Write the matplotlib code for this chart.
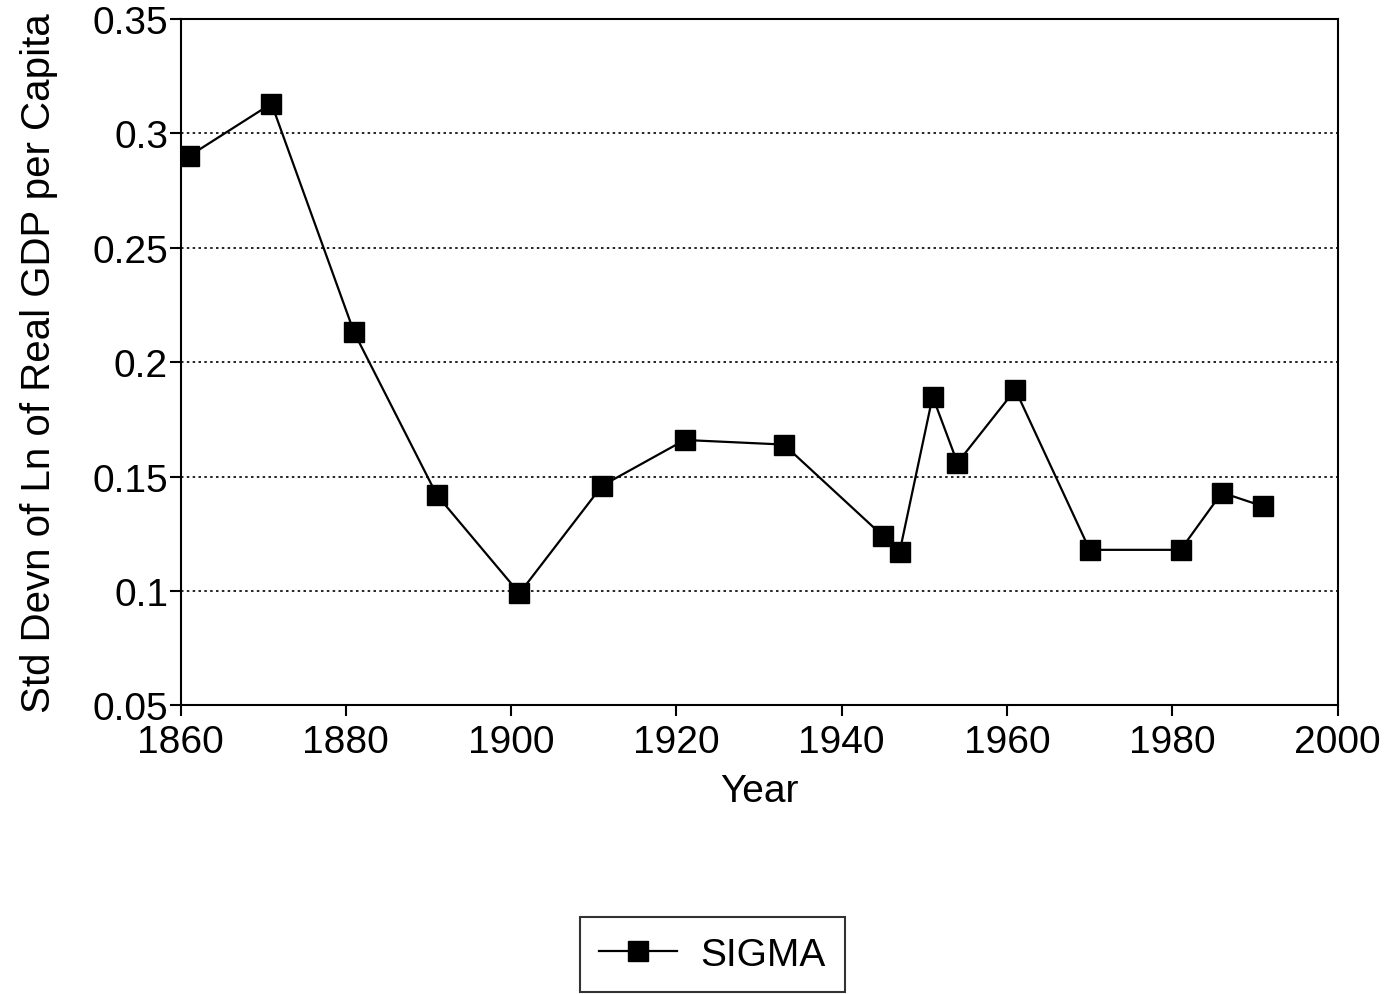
import numpy as np
import matplotlib
matplotlib.use("Agg")
import matplotlib.pyplot as plt
from matplotlib.lines import Line2D

plt.rcParams['font.family'] = ['Liberation Sans', 'DejaVu Sans']

# data
years = [1861, 1871, 1881, 1891, 1901, 1911, 1921, 1933, 1945, 1947,
         1951, 1954, 1961, 1970, 1981, 1986, 1991]
sigma = [0.290, 0.313, 0.213, 0.142, 0.099, 0.146, 0.166, 0.164, 0.124, 0.117,
         0.185, 0.156, 0.188, 0.118, 0.118, 0.143, 0.137]
xticks = [1860, 1880, 1900, 1920, 1940, 1960, 1980, 2000]
yticks = [0.05, 0.1, 0.15, 0.2, 0.25, 0.3, 0.35]
ytick_labels = ['0.05', '0.1', '0.15', '0.2', '0.25', '0.3', '0.35']

fig = plt.figure(figsize=(13.89, 9.95), dpi=100)
ax = fig.add_axes([0.130, 0.290, 0.833, 0.690])

ax.plot(years, sigma, color='black', lw=1.6, marker='s', ms=15,
        markerfacecolor='black', markeredgecolor='black')

ax.set_xlim(1860, 2000)
ax.set_ylim(0.05, 0.35)
ax.set_xticks(xticks)
ax.set_yticks(yticks)
ax.set_yticklabels(ytick_labels)
ax.tick_params(axis='both', labelsize=28, direction='out', length=8, width=1.5)
ax.tick_params(axis='y', pad=1)
ax.tick_params(axis='x', pad=5)
for s in ax.spines.values():
    s.set_linewidth(1.5)

# dotted horizontal grid
for yv in yticks[1:-1]:
    ax.axhline(yv, color='black', lw=1.2, ls=(0, (1.5, 2)), zorder=0)

ax.set_xlabel('Year', fontsize=28, labelpad=10)
ax.set_ylabel('Std Devn of Ln of Real GDP per Capita', fontsize=29)
ax.yaxis.set_label_coords(-0.106, 0.5)

handle = Line2D([], [], color='black', lw=1.6, marker='s', ms=15,
                markerfacecolor='black')
leg = fig.legend([handle], ['SIGMA'], loc='upper center',
                 bbox_to_anchor=(0.513, 0.077), fontsize=28, frameon=True,
                 fancybox=False, edgecolor='black', handlelength=2.0,
                 borderpad=0.5, handletextpad=0.6, borderaxespad=0)
leg.get_frame().set_linewidth(1.5)

fig.savefig('out.png', dpi=100)
